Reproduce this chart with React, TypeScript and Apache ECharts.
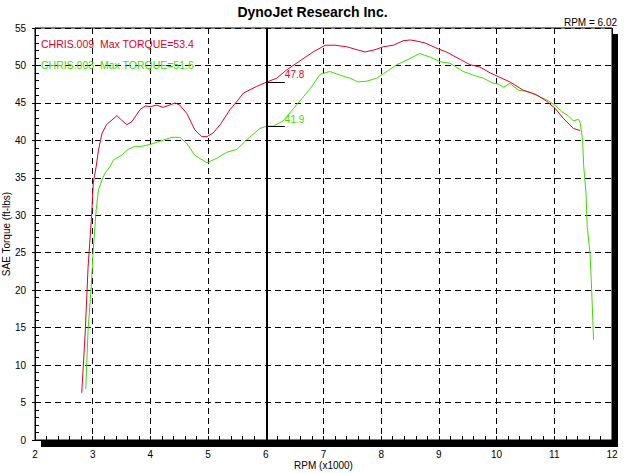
import React, { useEffect, useRef } from "react";
import * as echarts from "echarts";

const RED = "#e3002b";
const GREEN = "#3fdc00";

const RED_NAME = "CHRIS.009";
const GREEN_NAME = "CHRIS.003";
const RED_MAX = "53.4";
const GREEN_MAX = "51.6";

const CURSOR_RPM = 6.02;
const RED_AT_CURSOR = 47.8;
const GREEN_AT_CURSOR = 41.9;

const RED_RPM = [2.81, 2.87, 2.92, 2.98, 3.01, 3.06, 3.1, 3.16, 3.24, 3.3, 3.42, 3.5, 3.59, 3.68, 3.82, 3.91, 4.0, 4.11, 4.22, 4.43, 4.51, 4.63, 4.77, 4.89, 4.98, 5.09, 5.21, 5.38, 5.52, 5.61, 5.84, 6.02, 6.19, 6.36, 6.59, 6.82, 7.03, 7.2, 7.4, 7.58, 7.72, 7.89, 8.04, 8.21, 8.38, 8.5, 8.59, 8.76, 8.99, 9.13, 9.37, 9.54, 9.71, 9.89, 10.03, 10.23, 10.46, 10.69, 10.87, 11.01, 11.16, 11.33, 11.45];
const RED_TQ = [6.3, 14.3, 23.1, 29.8, 34.3, 36.5, 38.7, 40.9, 42.1, 42.5, 43.3, 42.7, 42.1, 42.5, 44.1, 44.6, 44.5, 44.7, 44.4, 45.0, 44.7, 43.6, 41.4, 40.5, 40.5, 41.0, 42.1, 44.1, 45.4, 46.3, 47.2, 47.8, 48.3, 49.4, 50.6, 51.8, 52.7, 52.7, 52.5, 52.1, 51.8, 52.1, 52.5, 52.7, 53.3, 53.4, 53.3, 53.0, 52.2, 51.8, 50.8, 50.1, 49.8, 49.0, 48.5, 47.8, 46.7, 46.1, 45.2, 44.3, 42.9, 41.6, 41.3];

const GREEN_RPM = [2.88, 2.92, 2.97, 3.01, 3.06, 3.1, 3.16, 3.21, 3.3, 3.36, 3.5, 3.59, 3.73, 3.85, 4.02, 4.17, 4.37, 4.51, 4.63, 4.77, 4.98, 5.15, 5.32, 5.5, 5.67, 5.9, 6.02, 6.13, 6.3, 6.54, 6.77, 6.94, 7.11, 7.29, 7.46, 7.6, 7.75, 7.92, 8.1, 8.27, 8.44, 8.67, 8.85, 9.02, 9.19, 9.42, 9.6, 9.77, 9.92, 10.03, 10.12, 10.23, 10.38, 10.55, 10.72, 10.87, 11.01, 11.13, 11.24, 11.33, 11.42, 11.45, 11.49, 11.51, 11.55, 11.57, 11.62, 11.65, 11.68];
const GREEN_TQ = [6.8, 14.7, 20.0, 25.4, 30.7, 33.4, 34.7, 35.6, 36.5, 37.4, 38.0, 38.7, 39.2, 39.2, 39.5, 39.9, 40.4, 40.4, 39.6, 38.0, 37.0, 37.6, 38.4, 38.8, 40.1, 41.6, 41.9, 41.9, 42.6, 44.8, 46.9, 48.8, 49.2, 48.7, 48.3, 47.8, 47.9, 48.3, 49.2, 50.1, 50.7, 51.6, 51.1, 50.5, 50.3, 49.2, 48.7, 48.3, 47.7, 47.5, 47.1, 47.6, 46.7, 46.5, 45.9, 45.4, 44.7, 43.8, 43.3, 42.6, 42.8, 42.3, 40.1, 36.5, 32.9, 28.5, 24.9, 19.6, 13.4];

const X_MIN = 2;
const X_MAX = 12;
const Y_MIN = 0;
const Y_MAX = 55;

const FONT = "'Liberation Sans', Arial, sans-serif";

function pairs(xs: number[], ys: number[]) {
  return xs.map((x, i) => [x, ys[i]]);
}

export default function App() {
  const ref = useRef<HTMLDivElement>(null);
  useEffect(() => {
    if (!ref.current) return;
    const chart = echarts.init(ref.current, null, { renderer: "svg" });
    const annEnd = CURSOR_RPM + 0.31;
    const maxOf: Record<string, string> = { [RED_NAME]: RED_MAX, [GREEN_NAME]: GREEN_MAX };
    const dash = { color: "#000", type: [6, 4] as any, width: 1 };
    chart.setOption({
      animation: false,
      backgroundColor: "#ffffff",
      textStyle: { fontFamily: FONT },
      title: [
        {
          text: "DynoJet Research Inc.",
          left: "center",
          top: 0,
          textStyle: { fontSize: 14, fontWeight: "bold", color: "#000", fontFamily: FONT },
        },
        {
          text: "RPM = 6.02",
          right: 3,
          top: 12,
          textStyle: { fontSize: 10, fontWeight: "normal", color: "#000", fontFamily: FONT },
        },
      ],
      legend: {
        orient: "vertical",
        left: 36,
        top: 38,
        icon: "none",
        itemWidth: 0,
        itemHeight: 10,
        itemGap: 10,
        padding: 0,
        selectedMode: false,
        data: [
          { name: RED_NAME, textStyle: { color: RED } },
          { name: GREEN_NAME, textStyle: { color: GREEN } },
        ],
        formatter: (n: string) => `${n}  Max TORQUE=${maxOf[n]}`,
        textStyle: { fontSize: 10.5, fontFamily: FONT },
      },
      grid: {
        left: 35,
        right: 13,
        top: 28,
        bottom: 33,
        outerBoundsMode: "none",
        containLabel: false,
        show: true,
        borderColor: "#000",
        borderWidth: 1,
        backgroundColor: "transparent",
      },
      xAxis: {
        type: "value",
        min: X_MIN,
        max: X_MAX,
        interval: 1,
        name: "RPM (x1000)",
        nameLocation: "middle",
        nameGap: 20,
        nameMoveOverlap: false,
        nameTextStyle: { fontSize: 10, color: "#000", fontFamily: FONT },
        axisLine: { show: true, lineStyle: { color: "#000", width: 1 } },
        axisTick: { show: true, inside: true, length: 4, lineStyle: { color: "#000" } },
        minorTick: { show: true, splitNumber: 5, length: 4, lineStyle: { color: "#000" } },
        axisLabel: { fontSize: 10, color: "#000", margin: 9, fontFamily: FONT },
        splitLine: { show: true, lineStyle: dash },
      },
      yAxis: [
        {
          type: "value",
          min: Y_MIN,
          max: Y_MAX,
          interval: 5,
          position: "left",
          name: "SAE Torque (ft-lbs)",
          nameLocation: "middle",
          nameGap: 24,
          nameMoveOverlap: false,
          nameTextStyle: { fontSize: 10, color: "#000", fontFamily: FONT },
          axisLine: { show: true, lineStyle: { color: "#000", width: 1 } },
          axisTick: { show: true, inside: true, length: 4, lineStyle: { color: "#000" } },
          minorTick: { show: true, splitNumber: 5, length: 4, lineStyle: { color: "#000" } },
          axisLabel: { fontSize: 10, color: "#000", margin: 9, fontFamily: FONT },
          splitLine: { show: true, lineStyle: dash },
        },
        {
          type: "value",
          min: Y_MIN,
          max: Y_MAX,
          interval: 5,
          position: "left",
          offset: 0,
          axisLine: { show: false },
          axisTick: { show: true, inside: false, length: 3, lineStyle: { color: "#000" } },
          axisLabel: { show: false },
          splitLine: { show: false },
        },
      ],
      series: [
        {
          name: RED_NAME,
          type: "line",
          data: pairs(RED_RPM, RED_TQ),
          showSymbol: false,
          lineStyle: { color: RED, width: 1 },
          itemStyle: { color: RED },
          z: 3,
          markLine: {
            silent: true,
            symbol: ["none", "none"],
            label: { show: false },
            data: [
              { xAxis: CURSOR_RPM, lineStyle: { color: "#000", width: 2, type: "solid" } },
              [
                { coord: [CURSOR_RPM, RED_AT_CURSOR], lineStyle: { color: "#000", width: 1, type: "solid" } },
                { coord: [annEnd, RED_AT_CURSOR] },
              ],
            ],
          },
          markPoint: {
            silent: true,
            symbol: "circle",
            symbolSize: 0,
            data: [{ coord: [annEnd, RED_AT_CURSOR], value: RED_AT_CURSOR }],
            label: {
              show: true,
              position: "right",
              offset: [-5, -7],
              color: RED,
              fontSize: 10,
              fontFamily: FONT,
              formatter: (p: any) => Number(p.value).toFixed(1),
            },
          },
        },
        {
          name: GREEN_NAME,
          type: "line",
          data: pairs(GREEN_RPM, GREEN_TQ),
          showSymbol: false,
          lineStyle: { color: GREEN, width: 1 },
          itemStyle: { color: GREEN },
          z: 2,
          markLine: {
            silent: true,
            symbol: ["none", "none"],
            label: { show: false },
            data: [
              [
                { coord: [CURSOR_RPM, GREEN_AT_CURSOR], lineStyle: { color: "#000", width: 1, type: "solid" } },
                { coord: [annEnd, GREEN_AT_CURSOR] },
              ],
            ],
          },
          markPoint: {
            silent: true,
            symbol: "circle",
            symbolSize: 0,
            data: [{ coord: [annEnd, GREEN_AT_CURSOR], value: GREEN_AT_CURSOR }],
            label: {
              show: true,
              position: "right",
              offset: [-5, -7],
              color: GREEN,
              fontSize: 10,
              fontFamily: FONT,
              formatter: (p: any) => Number(p.value).toFixed(1),
            },
          },
        },
      ],
      graphic: [
        { type: "rect", z: 100, shape: { x: 612, y: 34, width: 6, height: 413 }, style: { fill: "#000" } },
        { type: "rect", z: 100, shape: { x: 41, y: 440, width: 577, height: 7 }, style: { fill: "#000" } },
      ],
    });
    return () => chart.dispose();
  }, []);
  return (
    <div
      ref={ref}
      style={{ position: "fixed", left: 0, top: 0, width: 625, height: 473, background: "#fff" }}
    />
  );
}
